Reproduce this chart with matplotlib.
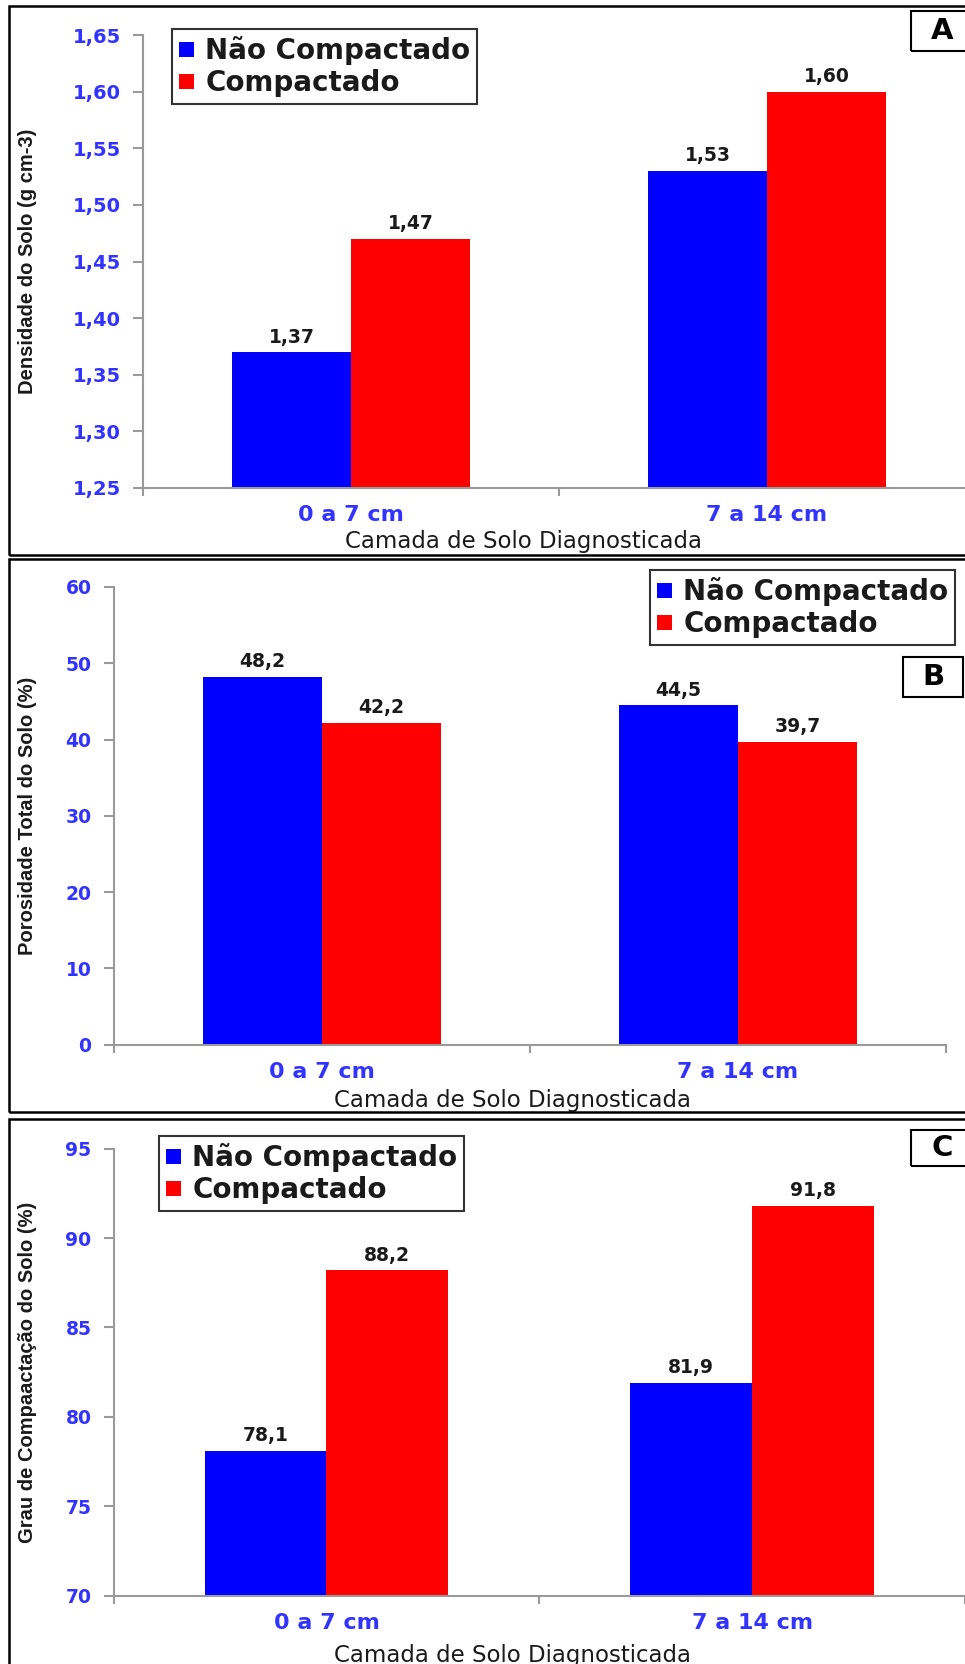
import matplotlib
matplotlib.use("Agg")
import matplotlib.pyplot as plt
from matplotlib.patches import Patch, Rectangle
from matplotlib import font_manager

# ---- data ----
layers = ["0 a 7 cm", "7 a 14 cm"]
series_names = ["Não Compactado", "Compactado"]

density_nc = [1.37, 1.53]
density_c = [1.47, 1.60]
density_ticks = [1.25, 1.30, 1.35, 1.40, 1.45, 1.50, 1.55, 1.60, 1.65]

porosity_nc = [48.2, 44.5]
porosity_c = [42.2, 39.7]
porosity_ticks = [0, 10, 20, 30, 40, 50, 60]

compaction_nc = [78.1, 81.9]
compaction_c = [88.2, 91.8]
compaction_ticks = [70, 75, 80, 85, 90, 95]

x_title = "Camada de Solo Diagnosticada"
y_titles = ["Densidade do Solo (g cm-3)",
            "Porosidade Total do Solo (%)",
            "Grau de Compaactação do Solo (%)"]
panel_letters = ["A", "B", "C"]

# ---- style ----
BLUE = "#0000ff"
RED = "#ff0000"
TICK_BLUE = "#3333ff"
AXIS_GRAY = "#9a9a9a"
TEXT_DARK = "#1a1a1a"
WIDE = "DejaVu Sans"


def narrow_family():
    try:
        font_manager.findfont(font_manager.FontProperties(family="Liberation Sans Narrow"),
                              fallback_to_default=False)
        return "Liberation Sans Narrow", 17.5
    except Exception:
        return "Liberation Sans", 14.5


NARROW, NARROW_SIZE = narrow_family()

W, H = 965, 1664
fig = plt.figure(figsize=(W / 100, H / 100), dpi=100)


def fx(px):
    return px / W


def fy(py):
    return 1 - py / H


def axes_box(left, right, top, bottom):
    return [fx(left), fy(bottom), fx(right) - fx(left), (bottom - top) / H]


def panel(box, nc, c, ticks, fmt_tick, fmt_val, y_title, xlabel_xy, ylabel_x, ytick_size):
    ax = fig.add_axes(box)
    xs = range(len(layers))
    w = 0.286
    b1 = ax.bar([x - w / 2 for x in xs], nc, width=w, color=BLUE, linewidth=0)
    b2 = ax.bar([x + w / 2 for x in xs], c, width=w, color=RED, linewidth=0)
    ax.set_xlim(-0.5, len(layers) - 0.5)
    ax.set_ylim(ticks[0], ticks[-1])
    ax.set_yticks(ticks)
    ax.set_yticklabels([fmt_tick(t) for t in ticks], fontsize=ytick_size,
                       fontweight="bold", color=TICK_BLUE, family=WIDE)
    ax.set_xticks(list(xs))
    ax.set_xticklabels(layers, fontsize=16, fontweight="bold", color=TICK_BLUE, family=WIDE)
    ax.set_xticks([x - 0.5 for x in range(len(layers) + 1)], minor=True)
    ax.tick_params(axis="x", which="major", length=0, pad=12.5)
    ax.tick_params(axis="x", which="minor", length=6, width=1.5, color=AXIS_GRAY, direction="out")
    ax.tick_params(axis="y", length=7, width=1.5, color=AXIS_GRAY, pad=9)
    for s in ("top", "right"):
        ax.spines[s].set_visible(False)
    for s in ("left", "bottom"):
        ax.spines[s].set_color(AXIS_GRAY)
        ax.spines[s].set_linewidth(1.5)
    for bars, vals in ((b1, nc), (b2, c)):
        for r, v in zip(bars, vals):
            ax.annotate(fmt_val(v), (r.get_x() + r.get_width() / 2, v),
                        xytext=(0, 4), textcoords="offset points", ha="center", va="bottom",
                        fontsize=13.5, fontweight="bold", color=TEXT_DARK, family=WIDE)
    ax.set_xlabel(x_title, fontsize=16.5, color=TEXT_DARK, family=WIDE)
    ax.xaxis.set_label_coords(*xlabel_xy)
    ax.set_ylabel(y_title, fontsize=NARROW_SIZE, fontweight="bold", color=TEXT_DARK,
                  family=NARROW, va="center")
    ax.yaxis.set_label_coords(ylabel_x, 0.5)
    return ax


def comma(fmt):
    return lambda v: format(v, fmt).replace(".", ",")


axA = panel(axes_box(143, 975, 35, 488), density_nc, density_c, density_ticks,
            comma(".2f"), comma(".2f"), y_titles[0], (0.457, -0.092),
            (28 - 143) / 832, 14)

axB = panel(axes_box(113.6, 946, 587, 1044.6), porosity_nc, porosity_c, porosity_ticks,
            comma(".0f"), comma(".1f"), y_titles[1], (0.479, -0.098),
            (28 - 113.6) / 832, 13.5)

axC = panel(axes_box(113.6, 965, 1148.7, 1595.6), compaction_nc, compaction_c, compaction_ticks,
            comma(".0f"), comma(".1f"), y_titles[2], (0.469, -0.108),
            (28 - 113.6) / 851, 13.5)

# ---- legends ----
handles = [Patch(facecolor=BLUE, edgecolor="none"), Patch(facecolor=RED, edgecolor="none")]


def add_legend(x0, y0):
    leg = fig.legend(handles, series_names, loc="upper left",
                     bbox_to_anchor=(fx(x0), fy(y0)), bbox_transform=fig.transFigure,
                     prop={"family": WIDE, "weight": "bold", "size": 20},
                     handlelength=0.55, handleheight=0.45, handletextpad=0.4,
                     labelspacing=0.15, borderpad=0.25, borderaxespad=0,
                     fancybox=False, frameon=True, edgecolor="black")
    leg.get_frame().set_linewidth(1.5)
    for t in leg.get_texts():
        t.set_color(TEXT_DARK)
    return leg


add_legend(172, 29)
add_legend(650, 570)
add_legend(159, 1136)

# ---- panel frames and letters ----
frames = [(9, 6, 555), (9, 559, 1112), (9, 1119, 1675)]
for x0, y0, y1 in frames:
    fig.add_artist(Rectangle((fx(x0), fy(y1)), fx(990) - fx(x0), (y1 - y0) / H,
                             transform=fig.transFigure, fill=False, edgecolor="black",
                             linewidth=1.8, clip_on=False))

letter_boxes = [(911, 11, 980, 51, 942), (903, 657, 963, 697, 933), (911, 1130, 980, 1166, 942)]
for letter, (x0, y0, x1, y1, xc) in zip(panel_letters, letter_boxes):
    fig.add_artist(Rectangle((fx(x0), fy(y1)), fx(x1) - fx(x0), (y1 - y0) / H,
                             transform=fig.transFigure, fill=False, edgecolor="black",
                             linewidth=1.5, clip_on=False))
    fig.text(fx(xc), fy((y0 + y1) / 2), letter, ha="center", va="center",
             fontsize=21, fontweight="bold", family=WIDE, color="black")

fig.savefig("out.png", dpi=100)
